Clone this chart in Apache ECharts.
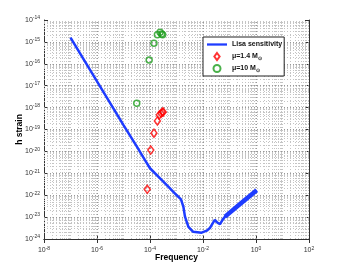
<!DOCTYPE html>
<html>
<head>
<meta charset="utf-8">
<script src="https://cdn.jsdelivr.net/npm/echarts@6/dist/echarts.min.js"></script>
<style>html,body{margin:0;padding:0;background:#fff;}#c{width:341px;height:270px;}#err{position:absolute;left:0;top:0;font-size:9px;color:#a00;}</style>
</head>
<body>
<div id="c"></div>
<div id="err"></div>
<script>
// LISA sensitivity curve (frequency Hz, strain)
const lisaFreq = [1e-7, 1e-6, 1e-5, 3.16e-5, 6.3e-5, 1e-4, 2.4e-4, 4.9e-4, 1e-3, 1.48e-3, 1.82e-3, 2.09e-3, 2.82e-3, 4.27e-3, 8.9e-3, 1.38e-2, 1.82e-2, 2.4e-2, 2.8e-2, 3.5e-2, 4.4e-2, 5.6e-2, 6.8e-2, 0.25, 1.06];
const lisaStrain = [1.58e-15, 1.58e-17, 1.58e-19, 1.70e-20, 4.2e-21, 1.70e-21, 5.9e-22, 2.45e-22, 1.02e-22, 6.5e-23, 2.95e-23, 1.05e-23, 3.6e-24, 2.14e-24, 1.95e-24, 2.4e-24, 3.16e-24, 5.6e-24, 7.4e-24, 5.6e-24, 4.8e-24, 7.9e-24, 1.05e-23, 4.0e-23, 1.7e-22];
// high-frequency oscillating (thick) part of the curve
const bandFreq = [6.8e-2, 0.25, 1.06];
const bandStrain = [1.05e-23, 4.0e-23, 1.7e-22];
// mu = 1.4 solar masses
const redFreq = [7.9e-5, 1.07e-4, 1.41e-4, 1.9e-4, 2.24e-4, 2.63e-4, 2.95e-4, 3.16e-4];
const redStrain = [1.86e-22, 1.15e-20, 6.8e-20, 2.45e-19, 4.6e-19, 5.5e-19, 6.2e-19, 6.3e-19];
// mu = 10 solar masses
const greenFreq = [3.16e-5, 9.3e-5, 1.41e-4, 1.9e-4, 2.4e-4, 2.75e-4, 3.0e-4];
const greenStrain = [1.58e-18, 1.48e-16, 8.7e-16, 2.1e-15, 2.75e-15, 2.3e-15, 2.1e-15];
// axes
const xMin = 1e-8, xMax = 1e2;
const yMin = 1e-24, yMax = 1e-14;
const yTickExponents = [-24, -23, -22, -21, -20, -19, -18, -17, -16, -15, -14];
const legendText = {'Lisa sensitivity': 'Lisa sensitivity', 'mu14': 'μ=1.4 M{sub|⊙}', 'mu10': 'μ=10 M{sub|⊙}'};

try {
const zip = (a, b) => a.map((v, i) => [v, b[i]]);
const yTickValues = yTickExponents.map(e => Math.pow(10, e));

// gridline positions (decades and 2..9 multiples)
const xMajor = [], xMinor = [], yMajor = [], yMinor = [];
for (let e = -8; e < 2; e++) {
  const base = Math.pow(10, e);
  if (e > -8) { if (e % 2 === 0) xMajor.push(base); else xMinor.push(base); }
  for (let k = 2; k <= 9; k++) xMinor.push(k * base);
}
for (let e = -24; e < -14; e++) {
  const base = Math.pow(10, e);
  if (e > -24) yMajor.push(base);
  for (let k = 2; k <= 9; k++) yMinor.push(k * base);
}
const vLines = vs => vs.map(v => ({coords: [[v, yMin], [v, yMax]]}));
const hLines = vs => vs.map(v => ({coords: [[xMin, v], [xMax, v]]}));
const gridSeries = (data, color) => ({
  type: 'lines', coordinateSystem: 'cartesian2d', xAxisIndex: 0, yAxisIndex: 0,
  silent: true, z: 1, data: data, symbol: 'none',
  lineStyle: {color: color, width: 1, type: [1, 2], opacity: 1}
});

const supFmt = v => {
  const e = Math.round(Math.log10(v));
  return '{b|10}{s|' + e + '}';
};
const tickRich = {
  b: {fontSize: 7, color: '#333', fontFamily: 'Liberation Sans'},
  s: {fontSize: 5, color: '#333', fontFamily: 'Liberation Sans', padding: [0, 0, 4, 0]}
};
const axisCommon = {
  type: 'log', logBase: 10,
  axisLine: {show: true, lineStyle: {color: '#333', width: 1}},
  axisTick: {show: true, inside: true, length: 4, lineStyle: {color: '#333'}},
  splitLine: {show: false}
};
const nameStyle = {fontSize: 8.5, fontWeight: 'bold', color: '#000', fontFamily: 'Liberation Sans'};

const chart = echarts.init(document.getElementById('c'), null, {renderer: 'canvas'});
chart.setOption({
  animation: false,
  backgroundColor: '#fff',
  grid: {left: 44, top: 20, right: 32, bottom: 31, containLabel: false, outerBoundsMode: 'none'},
  xAxis: [Object.assign({}, axisCommon, {
    min: xMin, max: xMax, interval: 2,
    name: 'Frequency', nameLocation: 'middle', nameGap: 14, nameMoveOverlap: false,
    nameTextStyle: nameStyle,
    axisLabel: {formatter: supFmt, rich: tickRich, margin: 7, showMinLabel: true, showMaxLabel: true, hideOverlap: false}
  }), Object.assign({}, axisCommon, {
    min: xMin, max: xMax, interval: 2, position: 'top',
    axisLabel: {show: false}
  })],
  yAxis: [Object.assign({}, axisCommon, {
    min: yMin, max: yMax, interval: 1,
    name: 'h strain', nameLocation: 'middle', nameGap: 20, nameRotate: 90, nameMoveOverlap: false,
    nameTextStyle: nameStyle,
    axisTick: {show: true, inside: true, length: 4, lineStyle: {color: '#333'}, customValues: yTickValues},
    axisLabel: {formatter: supFmt, rich: tickRich, margin: 4, customValues: yTickValues,
      showMinLabel: true, showMaxLabel: true, hideOverlap: false}
  }), Object.assign({}, axisCommon, {
    min: yMin, max: yMax, interval: 1, position: 'right',
    axisLabel: {show: false}
  })],
  legend: {
    data: [
      {name: 'Lisa sensitivity', icon: 'path://M0,0L22,0L22,2.5L0,2.5Z'},
      {name: 'mu14', icon: 'path://M3,0L6,4L3,8L0,4Z'},
      {name: 'mu10', icon: 'circle'}
    ],
    orient: 'vertical', left: 203, top: 37,
    backgroundColor: '#fff', borderColor: '#222', borderWidth: 1,
    padding: [3, 2, 3, 4], itemGap: 3, itemWidth: 20, itemHeight: 7,
    formatter: n => legendText[n],
    textStyle: {fontSize: 7, fontWeight: 'bold', color: '#111', fontFamily: 'Liberation Sans', lineHeight: 9,
      rich: {sub: {fontSize: 5, fontWeight: 'bold', padding: [4, 0, 0, 0], lineHeight: 9}}}
  },
  series: [
    gridSeries(vLines(xMinor), '#c4c4c4'),
    gridSeries(hLines(yMinor), '#c4c4c4'),
    gridSeries(vLines(xMajor), '#999999'),
    gridSeries(hLines(yMajor), '#999999'),
  {
    name: 'Lisa sensitivity', type: 'line', data: zip(lisaFreq, lisaStrain),
    showSymbol: false, symbol: 'none', z: 3,
    lineStyle: {color: '#1e3cff', width: 2.5}, itemStyle: {color: '#1e3cff'}
  }, {
    name: 'band', type: 'line', data: zip(bandFreq, bandStrain),
    showSymbol: false, symbol: 'none', z: 3,
    lineStyle: {color: '#1e3cff', width: 4.5}, itemStyle: {color: '#1e3cff'}
  }, {
    name: 'mu14', type: 'scatter', data: zip(redFreq, redStrain), z: 4,
    symbol: 'diamond', symbolSize: [6, 8],
    itemStyle: {color: 'rgba(255,255,255,0)', borderColor: '#ff0000', borderWidth: 1.5}
  }, {
    name: 'mu10', type: 'scatter', data: zip(greenFreq, greenStrain), z: 4,
    symbol: 'circle', symbolSize: 6,
    itemStyle: {color: 'rgba(255,255,255,0)', borderColor: '#1e9e1e', borderWidth: 1.5}
  }]
});
} catch (e) { document.getElementById('err').textContent = String(e && e.stack || e); }
</script>
</body>
</html>
